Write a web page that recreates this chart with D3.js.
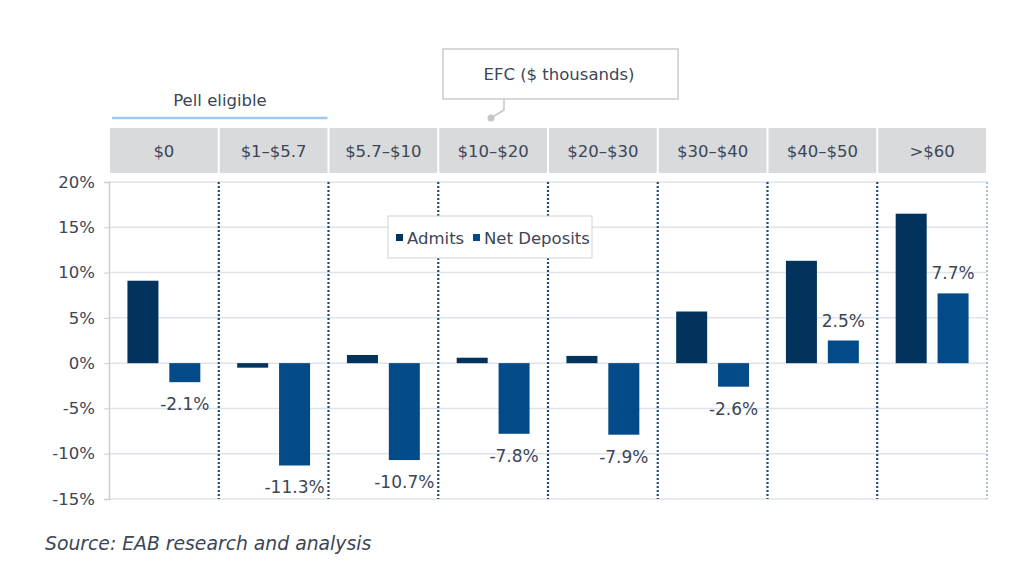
<!DOCTYPE html>
<html>
<head>
<meta charset="utf-8">
<script src="https://cdn.jsdelivr.net/npm/d3@7"></script>
<style>
  body { margin: 0; background: #fff; }
  svg text { font-family: "DejaVu Sans", Verdana, sans-serif; fill: #3b4656; }
</style>
</head>
<body>
<div id="chart"></div>
<script>
const width = 1024;
const height = 574;

const categories = ['$0', '$1–$5.7', '$5.7–$10', '$10–$20', '$20–$30', '$30–$40', '$40–$50', '>$60'];
const series = ['Admits', 'Net Deposits'];
const admits = [9.1, -0.5, 0.9, 0.6, 0.8, 5.7, 11.3, 16.5];
const net_deposits = [-2.1, -11.3, -10.7, -7.8, -7.9, -2.6, 2.5, 7.7];
const y_ticks = [20, 15, 10, 5, 0, -5, -10, -15];

const series_colors = ['#02335d', '#024a88'];
const text_color = '#3b4656';

const svg = d3.select('#chart')
    .append('svg')
    .attr('width', width)
    .attr('height', height);

const xScale = d3.scaleBand()
    .domain(categories)
    .range([109, 987]);

const innerScale = d3.scaleBand()
    .domain(series)
    .range([0, xScale.bandwidth()])
    .paddingInner(0.26)
    .paddingOuter(0.44);

const yScale = d3.scaleLinear()
    .domain([-15, 20])
    .range([499, 182]);

// gridlines
svg.append('g')
    .selectAll('line')
    .data(y_ticks)
    .enter()
    .append('line')
    .attr('x1', 109)
    .attr('x2', 987)
    .attr('y1', d => yScale(d))
    .attr('y2', d => yScale(d))
    .attr('stroke', '#dfe4ea')
    .attr('stroke-width', 1.5);

// y axis
const yAxis = d3.axisLeft(yScale)
    .tickValues(y_ticks)
    .tickSize(5)
    .tickPadding(9)
    .tickFormat(d => d + '%');

const yg = svg.append('g')
    .attr('transform', 'translate(109,0)')
    .call(yAxis);
yg.select('.domain').attr('stroke', '#c9ced4').attr('stroke-width', 1.5);
yg.selectAll('.tick line').attr('stroke', '#c9ced4');
yg.selectAll('.tick text')
    .attr('font-size', 16.5)
    .style('font-family', '"DejaVu Sans", Verdana, sans-serif')
    .attr('fill', text_color);

// dotted category dividers
svg.append('g')
    .selectAll('line')
    .data(categories)
    .enter()
    .append('line')
    .attr('x1', d => xScale(d) + xScale.bandwidth())
    .attr('x2', d => xScale(d) + xScale.bandwidth())
    .attr('y1', 182)
    .attr('y2', 499)
    .attr('stroke', (d, i) => i == categories.length - 1 ? '#5a7fa6' : '#1d4a78')
    .attr('stroke-width', (d, i) => i == categories.length - 1 ? 1 : 2.2)
    .attr('stroke-dasharray', '2,2');

// header boxes
const header = svg.append('g');
header.selectAll('rect')
    .data(categories)
    .enter()
    .append('rect')
    .attr('x', d => xScale(d) + 1)
    .attr('y', 128)
    .attr('width', xScale.bandwidth() - 2)
    .attr('height', 45)
    .attr('fill', '#d9dadc');
header.selectAll('text')
    .data(categories)
    .enter()
    .append('text')
    .attr('x', d => xScale(d) + xScale.bandwidth() / 2)
    .attr('y', 157)
    .attr('text-anchor', 'middle')
    .attr('font-size', 16.5)
    .text(d => d);

// bars
const rows = categories.map((c, i) => ({cat: c, values: [admits[i], net_deposits[i]]}));

const groups = svg.append('g')
    .selectAll('g')
    .data(rows)
    .enter()
    .append('g')
    .attr('transform', d => 'translate(' + xScale(d.cat) + ',0)');

groups.selectAll('rect')
    .data(d => d.values.map((v, j) => ({key: series[j], value: v, j: j})))
    .enter()
    .append('rect')
    .attr('x', d => innerScale(d.key))
    .attr('width', innerScale.bandwidth())
    .attr('y', d => yScale(Math.max(0, d.value)))
    .attr('height', d => Math.abs(yScale(d.value) - yScale(0)))
    .attr('fill', d => series_colors[d.j]);

// net deposit labels
groups.append('text')
    .attr('x', innerScale('Net Deposits') + innerScale.bandwidth() / 2)
    .attr('y', d => d.values[1] < 0 ? yScale(d.values[1]) + 28 : yScale(d.values[1]) - 14)
    .attr('text-anchor', 'middle')
    .attr('font-size', 17)
    .text(d => d.values[1].toFixed(1) + '%');

// legend
const legend = svg.append('g');
legend.append('rect')
    .attr('x', 388)
    .attr('y', 216)
    .attr('width', 204)
    .attr('height', 42)
    .attr('fill', '#fff')
    .attr('stroke', '#d0d3d7')
    .attr('stroke-width', 1);
const legend_x = [396, 473];
series.forEach((s, i) => {
    legend.append('rect')
        .attr('x', legend_x[i])
        .attr('y', 234)
        .attr('width', 7)
        .attr('height', 7)
        .attr('fill', series_colors[i]);
    legend.append('text')
        .attr('x', legend_x[i] + 11)
        .attr('y', 243.5)
        .attr('font-size', 16.5)
        .text(s);
});

// EFC callout
svg.append('path')
    .attr('d', 'M504,99 L504,110 L491,118')
    .attr('fill', 'none')
    .attr('stroke', '#c3c6ca')
    .attr('stroke-width', 1.5);
svg.append('circle')
    .attr('cx', 491)
    .attr('cy', 118)
    .attr('r', 3.5)
    .attr('fill', '#c3c6ca');
svg.append('rect')
    .attr('x', 443)
    .attr('y', 49)
    .attr('width', 235)
    .attr('height', 50)
    .attr('fill', '#fff')
    .attr('stroke', '#c8cbcf')
    .attr('stroke-width', 1.5);
svg.append('text')
    .attr('x', 559)
    .attr('y', 80)
    .attr('text-anchor', 'middle')
    .attr('font-size', 16.5)
    .text('EFC ($ thousands)');

// Pell eligible
svg.append('line')
    .attr('x1', xScale(categories[0]) + 3)
    .attr('x2', xScale(categories[2]) - 1)
    .attr('y1', 118)
    .attr('y2', 118)
    .attr('stroke', '#9fcaf0')
    .attr('stroke-width', 2.5);
svg.append('text')
    .attr('x', 220)
    .attr('y', 106)
    .attr('text-anchor', 'middle')
    .attr('font-size', 16.5)
    .text('Pell eligible');

// source
svg.append('text')
    .attr('x', 45)
    .attr('y', 550)
    .attr('font-size', 18.8)
    .attr('font-style', 'italic')
    .text('Source: EAB research and analysis');
</script>
</body>
</html>
